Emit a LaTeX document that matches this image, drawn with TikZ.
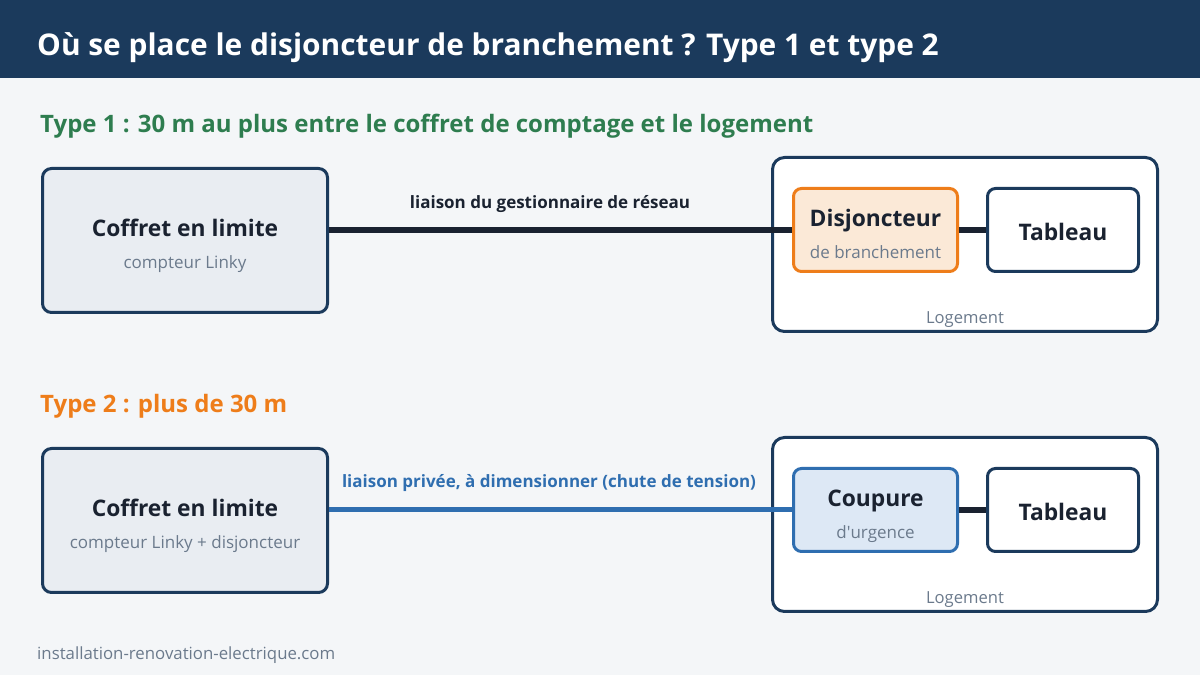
\documentclass[tikz,border=0pt]{standalone}
\usepackage{fontspec}
\setmainfont{Open Sans}
\usetikzlibrary{positioning}
\definecolor{navy}{HTML}{1B3A5C}
\definecolor{pagebg}{HTML}{F4F6F8}
\definecolor{boxfill}{HTML}{E9EDF2}
\definecolor{ink}{HTML}{1A2230}
\definecolor{subgrey}{HTML}{6B7A8C}
\definecolor{typegreen}{HTML}{2E7D4F}
\definecolor{typeorange}{HTML}{EE7D1A}
\definecolor{disjfill}{HTML}{FBE9D7}
\definecolor{linkblue}{HTML}{2F6EB0}
\definecolor{coupfill}{HTML}{DDE8F5}
\tikzset{
  x=1pt,y=1pt,
  coffret/.style={draw=navy,line width=3pt,rounded corners=9pt,fill=boxfill,
    minimum width=285pt,minimum height=144pt},
  logement/.style={draw=navy,line width=3pt,rounded corners=12pt,fill=white,
    minimum width=385pt,minimum height=174pt},
  organe/.style={line width=3pt,rounded corners=8pt,minimum width=164pt,
    minimum height=83pt},
  disjbox/.style={organe,draw=typeorange,fill=disjfill},
  coupbox/.style={organe,draw=linkblue,fill=coupfill},
  tabbox/.style={organe,draw=navy,fill=white,minimum width=151pt},
  boxtitle/.style={anchor=base,inner sep=0pt,text=ink,
    font=\bfseries\fontsize{22.8}{27}\selectfont},
  boxsub/.style={anchor=base,inner sep=0pt,text=subgrey,
    font=\fontsize{17}{20}\selectfont},
  heading/.style={anchor=base west,inner sep=0pt,
    font=\bfseries\fontsize{24}{28}\selectfont},
  linklbl/.style={anchor=base,inner sep=0pt,font=\bfseries\fontsize{17}{20}\selectfont},
  lognote/.style={anchor=base,inner sep=0pt,text=subgrey,font=\fontsize{16.6}{19}\selectfont},
  reseau/.style={line width=6pt,ink},
  privee/.style={line width=5pt,linkblue},
}

\begin{document}
\begin{tikzpicture}
  \fill[pagebg] (0,0) rectangle (1200,675);
  \fill[navy] (0,597) rectangle (1200,675);
  \useasboundingbox (0,0) rectangle (1200,675);
  \node[anchor=base west,inner sep=0pt,text=white,font=\bfseries\fontsize{29.9}{35}\selectfont]
    (titre) at (37,619) {Où se place le disjoncteur de branchement ? Type 1 et type 2};

  \node[heading,text=typegreen] (type1) at (40,542)
    {Type 1 : 30 m au plus entre le coffret de comptage et le logement};
  \node[coffret] (cof1) at (185,434.5) {};
  \node[boxtitle] (cof1t) at (185,438) {Coffret en limite};
  \node[boxsub] (cof1s) at (185,406) {compteur Linky};
  \node[logement] (log1) at (965,430.5) {};
  \node[lognote] (log1l) at (965,351) {Logement};
  \node[disjbox] (disj) at (875.5,445) {};
  \node[boxtitle] (disjt) at (875.5,448) {Disjoncteur};
  \node[boxsub] (disjs) at (875.5,416) {de branchement};
  \node[tabbox,right=27pt of disj] (tab1) {};
  \node[boxtitle] (tab1t) at ([yshift=-11pt]tab1.center) {Tableau};
  \draw[reseau] (disj.west -| cof1.east) -- (disj.west);
  \draw[reseau] (disj.east) -- (tab1.west);
  \node[linklbl,text=ink] (lien1) at (550,466) {liaison du gestionnaire de réseau};

  \node[heading,text=typeorange] (type2) at (40,262) {Type 2 : plus de 30 m};
  \node[coffret] (cof2) at (185,154.5) {};
  \node[boxtitle] (cof2t) at (185,158) {Coffret en limite};
  \node[boxsub] (cof2s) at (185,126) {compteur Linky + disjoncteur};
  \node[logement] (log2) at (965,150.5) {};
  \node[lognote] (log2l) at (965,71) {Logement};
  \node[coupbox] (coup) at (875.5,165) {};
  \node[boxtitle] (coupt) at (875.5,168) {Coupure};
  \node[boxsub] (coups) at (875.5,136) {d\textquotesingle urgence};
  \node[tabbox,right=27pt of coup] (tab2) {};
  \node[boxtitle] (tab2t) at ([yshift=-11pt]tab2.center) {Tableau};
  \draw[privee] (coup.west -| cof2.east) -- (coup.west);
  \draw[reseau] (coup.east) -- (tab2.west);
  \node[linklbl,text=linkblue] (lien2) at (549,187)
    {liaison privée, à dimensionner (chute de tension)};

  \node[anchor=base west,inner sep=0pt,text=subgrey,font=\fontsize{16.8}{20}\selectfont]
    (site) at (37,16) {installation-renovation-electrique.com};
\end{tikzpicture}
\end{document}
